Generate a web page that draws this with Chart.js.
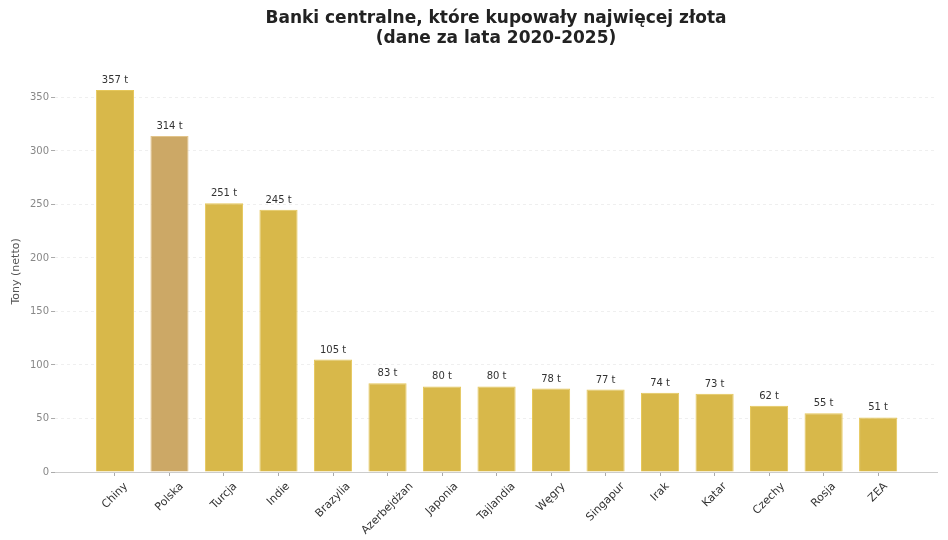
<!DOCTYPE html>
<html>
<head>
<meta charset="utf-8">
<script src="https://cdn.jsdelivr.net/npm/chart.js@4"></script>
<style>
  html, body { margin: 0; padding: 0; background: #fff; }
  #wrap { width: 948px; height: 540px; }
</style>
</head>
<body>
<div id="wrap"><canvas id="goldChart"></canvas></div>
<script>
// Dane: zakupy złota przez banki centralne 2020-2025 (tony netto)
const countries = ["Chiny", "Polska", "Turcja", "Indie", "Brazylia", "Azerbejdżan", "Japonia", "Tajlandia", "Węgry", "Singapur", "Irak", "Katar", "Czechy", "Rosja", "ZEA"];
const tonnes = [357, 314, 251, 245, 105, 83, 80, 80, 78, 77, 74, 73, 62, 55, 51];
const yTicks = [0, 50, 100, 150, 200, 250, 300, 350];

const gold = "#d8b84a";
const polandColor = "#cca866";

Chart.defaults.font.family = "'DejaVu Sans', sans-serif";

// etykiety nad słupkami
const valueLabels = {
  id: "valueLabels",
  afterDatasetsDraw(chart) {
    const ctx = chart.ctx;
    const meta = chart.getDatasetMeta(0);
    ctx.save();
    ctx.font = "10px 'DejaVu Sans'";
    ctx.fillStyle = "#333";
    ctx.textAlign = "center";
    ctx.textBaseline = "alphabetic";
    meta.data.forEach((bar, i) => {
      ctx.fillText(tonnes[i] + " t", bar.x, bar.y - 7);
    });
    ctx.restore();
  },
};

// nazwy krajów obrócone o 45°, wyśrodkowane pod kreską podziałki
const countryLabels = {
  id: "countryLabels",
  afterDraw(chart) {
    const ctx = chart.ctx;
    const xScale = chart.scales.x;
    const h = 13;
    const s = Math.SQRT1_2;
    ctx.save();
    ctx.font = "11px 'DejaVu Sans'";
    ctx.fillStyle = "#333";
    ctx.textAlign = "center";
    ctx.textBaseline = "middle";
    countries.forEach((c, i) => {
      const w = ctx.measureText(c).width;
      const boxH = (w + h) * s;
      const x = xScale.getPixelForValue(i);
      const y = xScale.top + 4 + 4 + boxH / 2;
      ctx.save();
      ctx.translate(x, y);
      ctx.rotate(-Math.PI / 4);
      ctx.fillText(c, 0, 0);
      ctx.restore();
    });
    ctx.restore();
  },
};

const data = {
  datasets: [
    {
      data: tonnes.map((v, i) => ({ x: i, y: v })),
      backgroundColor: countries.map((c) => (c === "Polska" ? polandColor : gold)),
      borderColor: countries.map((c) => (c === "Polska" ? "#e2c48a" : "#e6c75a")),
      borderWidth: 1,
      barPercentage: 0.7,
      categoryPercentage: 1,
    },
  ],
};

const config = {
  type: "bar",
  data,
  plugins: [valueLabels, countryLabels],
  options: {
    responsive: true,
    maintainAspectRatio: false,
    animation: false,
    layout: {
      padding: { left: 0, right: 11, top: 0, bottom: 0 },
    },
    plugins: {
      legend: { display: false },
      tooltip: { enabled: false },
      title: {
        display: true,
        fullSize: false,
        text: ["Banki centralne, które kupowały najwięcej złota", "(dane za lata 2020-2025)"],
        color: "#222",
        font: { size: 17, weight: "bold", lineHeight: 1.2 },
        padding: { top: 8, bottom: 22 },
      },
    },
    scales: {
      x: {
        type: "linear",
        min: -1.1,
        max: 15.08,
        offset: false,
        grid: {
          offset: false,
          drawOnChartArea: false,
          drawTicks: true,
          tickLength: 4,
          tickColor: "#aaa",
        },
        border: { display: true, color: "#ccc", width: 1 },
        afterBuildTicks: (axis) => (axis.ticks = countries.map((c, i) => ({ value: i }))),
        afterFit: (axis) => (axis.height = 68),
        ticks: {
          autoSkip: false,
          color: "rgba(0,0,0,0)",
          maxRotation: 0,
          callback: () => "",
        },
      },
      y: {
        min: 0,
        max: 374.85,
        border: { display: false, dash: [3, 3] },
        grid: {
          color: "#efefef",
          tickColor: "#aaa",
          tickBorderDash: [],
          tickLength: 4,
        },
        afterBuildTicks: (axis) => (axis.ticks = yTicks.map((v) => ({ value: v }))),
        afterFit: (axis) => (axis.width = 55),
        ticks: {
          color: "#888",
          font: { size: 10 },
          padding: 2,
        },
        title: {
          display: true,
          text: "Tony (netto)",
          color: "#555",
          font: { size: 11 },
          padding: { top: 10, bottom: 4 },
        },
      },
    },
  },
};

const canvas = document.getElementById("goldChart");
const goldChart = new Chart(canvas, config);
</script>
</body>
</html>
